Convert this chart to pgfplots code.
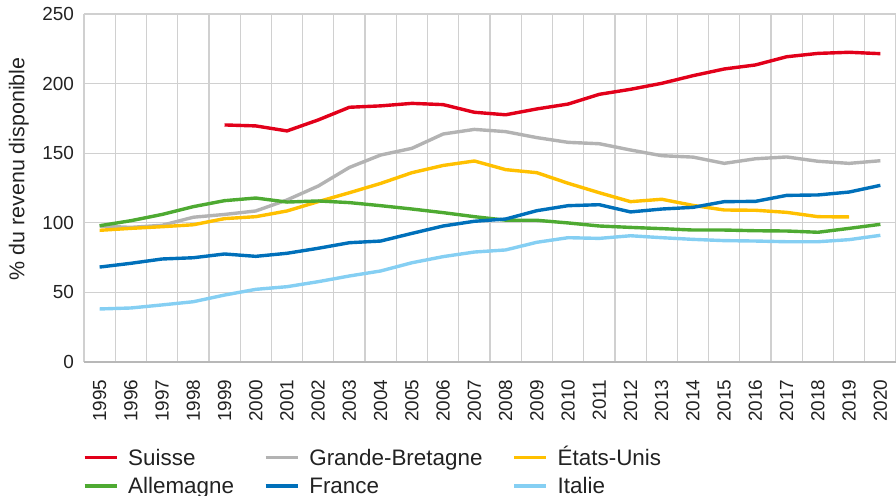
\documentclass[border=0pt]{standalone}
\usepackage{fontspec}
\setmainfont{Liberation Sans}
\usepackage{pgfplots}
\pgfplotsset{compat=1.18}
\usetikzlibrary{calc}

\definecolor{chRed}{HTML}{E2001A}
\definecolor{chGray}{HTML}{B3B3B3}
\definecolor{chYellow}{HTML}{FFC000}
\definecolor{chGreen}{HTML}{4EAA32}
\definecolor{chBlue}{HTML}{0070BA}
\definecolor{chLight}{HTML}{85CFF3}
\definecolor{gridc}{HTML}{D0D0D0}
\definecolor{txt}{HTML}{222222}

\begin{document}
\begin{tikzpicture}
\begin{axis}[
    name=ax,
    scale only axis, width=812bp, height=348bp,
    xmin=1994.5, xmax=2020.5, ymin=0, ymax=250,
    xtick={1995,...,2020},
    minor xtick={1994.5,1995.5,1996.5,1997.5,1998.5,1999.5,2000.5,2001.5,
                 2002.5,2003.5,2004.5,2005.5,2006.5,2007.5,2008.5,2009.5,
                 2010.5,2011.5,2012.5,2013.5,2014.5,2015.5,2016.5,2017.5,
                 2018.5,2019.5,2020.5},
    ytick={0,50,...,250},
    xminorgrids, ymajorgrids,
    major grid style={gridc, line width=1.2bp},
    minor grid style={gridc, line width=1.2bp},
    axis x line*=bottom, axis y line*=left,
    x axis line style={-, draw=black!28, line width=1.5bp},
    y axis line style={draw=none},
    tick style={draw=none},
    /pgf/number format/assume math mode=true,
    /pgf/number format/1000 sep={},
    ticklabel style={font=\fontsize{19}{19}\selectfont, text=txt},
    xticklabel style={rotate=90, anchor=east},
    xticklabel shift=14bp,
    yticklabel shift=6.5bp,
    ylabel={\% du revenu disponible},
    ylabel style={at={(axis description cs:-0.0733,0.555)}, anchor=base,
                  font=\fontsize{21.5}{22}\selectfont, text=txt},
    no markers,
    every axis plot/.append style={line width=3.4bp, line join=round},
    legend columns=3,
    legend style={at={(axis description cs:0,0)}, anchor=north west,
        xshift=-1bp, yshift=-87bp, draw=none, fill=none,
        font=\fontsize{22.5}{22.5}\selectfont, text=txt,
        inner sep=0pt, outer sep=0pt,
        nodes={inner sep=0pt, text height=16.5bp, text depth=5bp},
        row sep=6.8bp,
        /tikz/every odd column/.style={column sep=10bp},
        /tikz/every even column/.style={column sep=30bp}},
    legend cell align=left,
    legend image code/.code={\draw[#1, line width=3.2bp] (0bp,2bp) -- (32bp,2bp);},
]
\addplot[chRed] coordinates {
 (1999,170.3) (2000,169.6) (2001,166.0) (2002,173.9) (2003,183.0) (2004,184.0)
 (2005,185.8) (2006,184.9) (2007,179.4) (2008,177.6) (2009,181.8) (2010,185.3)
 (2011,192.3) (2012,195.9) (2013,200.2) (2014,205.7) (2015,210.5) (2016,213.4)
 (2017,219.3) (2018,221.7) (2019,222.5) (2020,221.5)};
\addplot[chGray] coordinates {
 (1995,97.7) (1996,96.7) (1997,98.2) (1998,104.0) (1999,106.0) (2000,108.5)
 (2001,116.4) (2002,126.4) (2003,139.8) (2004,148.7) (2005,153.5) (2006,163.8)
 (2007,167.1) (2008,165.5) (2009,161.2) (2010,157.8) (2011,156.8) (2012,152.3)
 (2013,148.2) (2014,147.2) (2015,142.7) (2016,146.0) (2017,147.3) (2018,144.2)
 (2019,142.7) (2020,144.6)};
\addplot[chYellow] coordinates {
 (1995,94.6) (1996,96.0) (1997,97.2) (1998,98.6) (1999,103.0) (2000,104.4)
 (2001,108.5) (2002,115.2) (2003,121.6) (2004,128.3) (2005,136.0) (2006,141.2)
 (2007,144.4) (2008,138.2) (2009,136.0) (2010,128.4) (2011,121.6) (2012,115.2)
 (2013,116.9) (2014,112.5) (2015,109.2) (2016,109.0) (2017,107.5) (2018,104.4)
 (2019,104.2)};
\addplot[chGreen] coordinates {
 (1995,97.9) (1996,101.5) (1997,106.0) (1998,111.6) (1999,115.9) (2000,117.8)
 (2001,114.9) (2002,115.7) (2003,114.5) (2004,112.3) (2005,109.9) (2006,107.3)
 (2007,104.4) (2008,101.9) (2009,101.8) (2010,99.9) (2011,97.7) (2012,96.7)
 (2013,95.8) (2014,94.8) (2015,94.8) (2016,94.3) (2017,94.1) (2018,93.2)
 (2019,96.0) (2020,98.9)};
\addplot[chBlue] coordinates {
 (1995,68.2) (1996,70.9) (1997,74.0) (1998,74.9) (1999,77.6) (2000,75.9)
 (2001,78.1) (2002,81.7) (2003,85.7) (2004,86.9) (2005,92.4) (2006,97.7)
 (2007,101.1) (2008,102.7) (2009,108.7) (2010,112.3) (2011,113.0) (2012,107.8)
 (2013,109.9) (2014,111.1) (2015,115.2) (2016,115.4) (2017,119.7) (2018,120.0)
 (2019,122.1) (2020,126.9)};
\addplot[chLight] coordinates {
 (1995,38.1) (1996,38.8) (1997,41.0) (1998,43.3) (1999,48.1) (2000,52.2)
 (2001,54.1) (2002,57.7) (2003,61.8) (2004,65.4) (2005,71.3) (2006,75.7)
 (2007,79.0) (2008,80.5) (2009,86.0) (2010,89.3) (2011,88.8) (2012,90.7)
 (2013,89.3) (2014,88.1) (2015,87.2) (2016,86.9) (2017,86.4) (2018,86.4)
 (2019,87.9) (2020,91.0)};
\legend{Suisse, Grande-Bretagne, États-Unis, Allemagne, France, Italie}
\end{axis}
\pgfresetboundingbox
\path[use as bounding box] ($(ax.south west)+(-84bp,-134bp)$) rectangle ($(ax.north east)+(0bp,14bp)$);
\end{tikzpicture}
\end{document}
